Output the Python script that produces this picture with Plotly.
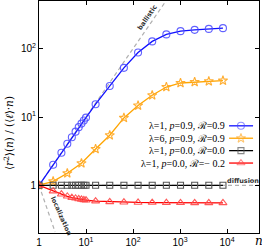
import plotly.graph_objects as go

# ---------------- data ----------------
n_dense = [1, 2, 3, 4, 5, 6, 7, 8, 9, 10, 16, 32, 64, 128, 256, 512, 1024, 2048, 4096, 8192]
n_pow2 = [1, 2, 4, 8, 16, 32, 64, 128, 256, 512, 1024, 2048, 4096, 8192]

blue_y = [1.0, 2.0, 3.0, 4.05, 5.05, 6.1, 7.1, 8.0, 8.9, 9.8, 15.4, 28.5, 52.5, 88.0, 128.0, 162.0, 181.0, 189.0, 195.0, 200.0]
orange_y = [1.0, 1.14, 1.5, 2.1, 3.4, 5.4, 9.7, 14.7, 20.8, 27.5, 31.5, 32.5, 33.3, 34.1]
black_y = [1.0] * len(n_dense)
red_y = [1.0, 0.82, 0.74, 0.69, 0.66, 0.645, 0.63, 0.62, 0.612, 0.605, 0.585, 0.572, 0.565, 0.56, 0.558, 0.555, 0.554, 0.553, 0.552, 0.552]

ballistic_n = [1, 500]
ballistic_y = [1, 500]
diffusion_n = [1, 48000]
diffusion_y = [1, 1]
local_n = [1, 2.2]
local_y = [1, 0.207]

series_labels = [
    "λ=1, <i>p</i>=0.9, ℛ=0.9",
    "λ=6, <i>p</i>=0.9, ℛ=0.9",
    "λ=1, <i>p</i>=0.0, ℛ=0.0",
    "λ=1, <i>p</i>=0.0, ℛ=− 0.2",
]
x_tickvals = [1, 10, 100, 1000, 10000]
x_ticktext = ["1", "10<sup>1</sup>", "10<sup>2</sup>", "10<sup>3</sup>", "10<sup>4</sup>"]
y_tickvals = [1, 10, 100]
y_ticktext = ["1", "10<sup>1</sup>", "10<sup>2</sup>"]

# ---------------- styles ----------------
styles = [
    dict(line="#1010ff", marker="rgba(70,70,255,0.85)", symbol="circle-open", size=7),
    dict(line="#ffa500", marker="rgba(255,170,40,0.95)", symbol="star-open", size=7),
    dict(line="#000000", marker="#555555", symbol="square-open", size=6),
    dict(line="#ff0000", marker="rgba(255,70,70,0.9)", symbol="triangle-up-open", size=7),
]
xs = [n_dense, n_pow2, n_dense, n_dense]
ys = [blue_y, orange_y, black_y, red_y]

fig = go.Figure()
guide = dict(color="#b0b0b0", width=1.2, dash="4px,3px")
fig.add_trace(go.Scatter(x=ballistic_n, y=ballistic_y, mode="lines", line=guide, showlegend=False))
fig.add_trace(go.Scatter(x=diffusion_n, y=diffusion_y, mode="lines", line=guide, showlegend=False))
fig.add_trace(go.Scatter(x=local_n, y=local_y, mode="lines", line=guide, showlegend=False))

for x, y, st in zip(xs, ys, styles):
    fig.add_trace(go.Scatter(
        x=x, y=y, mode="lines+markers",
        line=dict(color=st["line"], width=1.3),
        marker=dict(symbol=st["symbol"], size=st["size"], color=st["marker"],
                    line=dict(width=1.1, color=st["marker"])),
        showlegend=False))

# ---------------- manual legend (text left, key right) ----------------
leg_text_x = 0.855
leg_key_x0, leg_key_x1, leg_key_xm = 0.864, 0.973, 0.918
leg_y0, leg_dy = 0.462, 0.0535
for i, (lab, st) in enumerate(zip(series_labels, styles)):
    yy = leg_y0 - i * leg_dy
    fig.add_trace(go.Scatter(
        x=[leg_key_x0, leg_key_xm, leg_key_x1], y=[yy, yy, yy],
        xaxis="x2", yaxis="y2", mode="lines+markers",
        line=dict(color=st["line"], width=1.3),
        marker=dict(symbol=st["symbol"], size=[0, st["size"], 0], color=st["marker"],
                    line=dict(width=1.1, color=st["marker"])),
        showlegend=False, hoverinfo="skip"))
    fig.add_annotation(x=leg_text_x, y=yy, xref="paper", yref="paper", text=lab,
                       showarrow=False, xanchor="right", yanchor="middle",
                       font=dict(family="Liberation Serif", size=10, color="black"))

# ---------------- guide labels ----------------
lab_font = dict(family="DejaVu Sans", size=6.5, color="#333")
fig.add_annotation(x=0.495, y=0.93, xref="paper", yref="paper", text="<b>ballistic</b>",
                   showarrow=False, textangle=-55, xanchor="center", yanchor="middle", font=lab_font)
fig.add_annotation(x=0.927, y=0.225, xref="paper", yref="paper", text="<b>diffusion</b>",
                   showarrow=False, xanchor="center", yanchor="middle", font=lab_font)
fig.add_annotation(x=0.1, y=0.073, xref="paper", yref="paper", text="<b>localization</b>",
                   showarrow=False, textangle=66, xanchor="center", yanchor="middle", font=lab_font)

# axis titles
fig.add_annotation(x=-0.142, y=0.43, xref="paper", yref="paper",
                   text="⟨<i>r</i><sup>2</sup>⟩(<i>n</i>) / (⟨<i>ℓ</i>⟩·<i>n</i>)",
                   showarrow=False, textangle=-90, xanchor="center", yanchor="middle",
                   font=dict(family="DejaVu Serif", size=10.5, color="black"))
fig.add_annotation(x=1.0, y=-0.035, xref="paper", yref="paper", text="<i>n</i>",
                   showarrow=False, xanchor="center", yanchor="middle",
                   font=dict(family="DejaVu Serif", size=12, color="black"))

axis_common = dict(showline=True, linecolor="black", linewidth=1, mirror="ticks",
                   ticks="inside", ticklen=4, tickcolor="black", tickwidth=1,
                   showgrid=False, zeroline=False,
                   tickfont=dict(family="Liberation Sans", size=10, color="black"))
fig.update_layout(
    width=262, height=247,
    margin=dict(l=39, r=3, t=1, b=14),
    paper_bgcolor="white", plot_bgcolor="white",
    xaxis=dict(type="log", range=[0, 4.68], tickvals=x_tickvals, ticktext=x_ticktext,
               automargin=False, **axis_common),
    yaxis=dict(type="log", range=[-0.699, 2.699], tickvals=y_tickvals, ticktext=y_ticktext,
               automargin=False, **axis_common),
    xaxis2=dict(overlaying="x", range=[0, 1], visible=False, fixedrange=True),
    yaxis2=dict(overlaying="y", range=[0, 1], visible=False, fixedrange=True),
    showlegend=False,
)

fig.write_html("out.html", config={"displayModeBar": False},
               post_script="document.body.style.margin='0px';document.body.style.overflow='hidden';")
